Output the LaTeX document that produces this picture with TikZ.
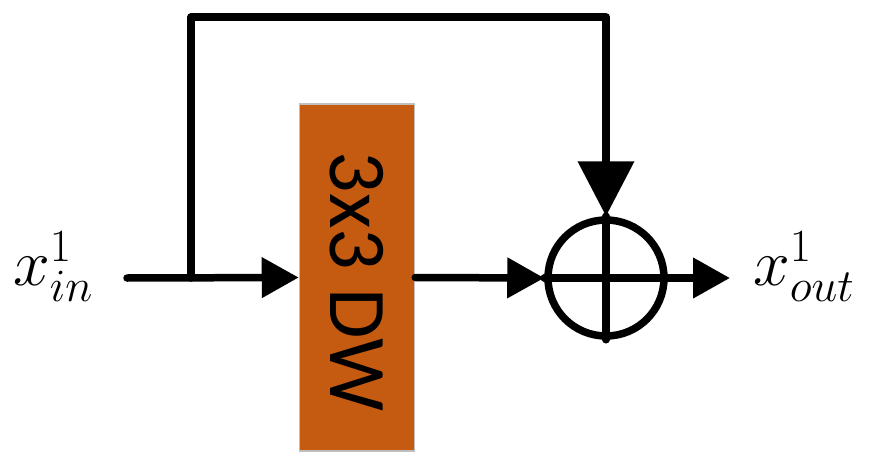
\RequirePackage{fix-cm}
\documentclass[tikz,border=0pt]{standalone}
\usepackage{fontspec}
\newfontfamily\boxfont{Carlito}
\usetikzlibrary{arrows.meta}
\definecolor{dworange}{HTML}{C55A11}
\definecolor{boxgray}{HTML}{BFBFBF}
\begin{document}
\begin{tikzpicture}[x=1pt,y=-1pt,
  conn/.style={line width=7.5pt, line cap=round, line join=round},
  tip/.style={-{Triangle[length=37pt,width=39pt]}},
  bigtip/.style={-{Triangle[length=55pt,width=55pt]}},
  label/.style={font=\fontsize{66}{80}\selectfont, inner sep=0pt}]
\useasboundingbox (0,0) rectangle (872,468);
\node[label, anchor=base west] (xin) at (13,285) {$x_{in}^{1}$};
\node[label, anchor=base west] (xout) at (753,285) {$x_{out}^{1}$};
\node[draw=boxgray, fill=dworange, line width=1.5pt, minimum width=115pt, minimum height=347pt, inner sep=0pt] (dw) at (357,277.5) {};
\node[rotate=-90, font=\boxfont\fontsize{82}{96}\selectfont, inner sep=0pt] (dwtext) at (357,281.5) {3x3 DW};
\node[circle, draw, line width=7.5pt, minimum size=116pt, inner sep=0pt] (sum) at (606,278) {};
\coordinate (start) at (127,278);
\coordinate (branch) at (191,278);
\coordinate (tl) at (191,17);
\coordinate (tr) at (606,17);
\coordinate (outend) at (730,278);
\draw[conn] (sum.north) -- (sum.south);
\draw[conn, tip] (start) -- (dw.west);
\draw[conn, bigtip] (branch) -- (tl) -- (tr) -- (sum.north);
\draw[conn, tip] (dw.east) -- (sum.west);
\draw[conn, tip] (sum.west) -- (outend);
\end{tikzpicture}
\end{document}
